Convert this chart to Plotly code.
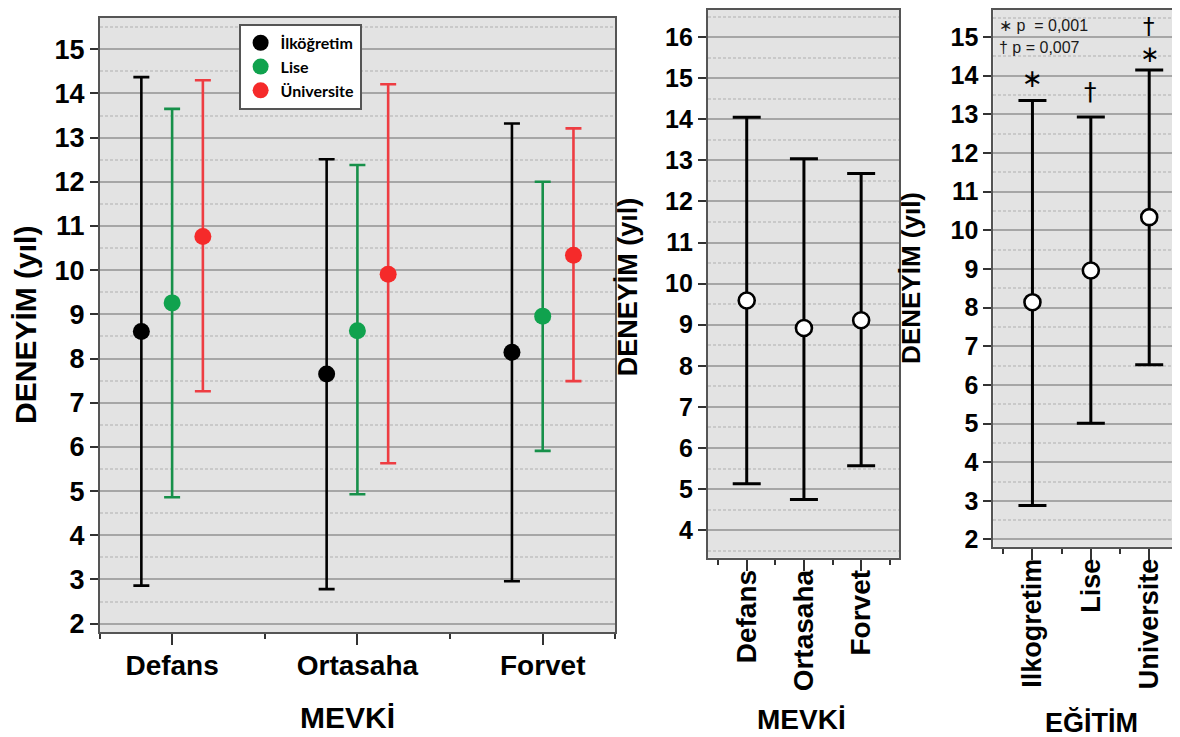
import plotly.graph_objects as go

W, H = 1180, 737

# ---------------- data ----------------
mevki = ["Defans", "Ortasaha", "Forvet"]
egitim = ["Ilkogretim", "Lise", "Universite"]
groups = ["İlköğretim", "Lise", "Üniversite"]

# left panel (MEVKİ x EĞİTİM): mean / upper / lower
ilk_mean = [8.61, 7.65, 8.14]
ilk_upper = [14.37, 12.51, 13.32]
ilk_lower = [2.86, 2.78, 2.96]
lise_mean = [9.26, 8.63, 8.96]
lise_upper = [13.65, 12.38, 12.00]
lise_lower = [4.86, 4.93, 5.91]
uni_mean = [10.76, 9.91, 10.34]
uni_upper = [14.30, 14.21, 13.21]
uni_lower = [7.26, 5.63, 7.49]

# middle panel (MEVKİ)
mevki_mean = [9.59, 8.92, 9.11]
mevki_upper = [14.05, 13.04, 12.68]
mevki_lower = [5.13, 4.75, 5.57]

# right panel (EĞİTİM)
egitim_mean = [8.14, 8.96, 10.34]
egitim_upper = [13.36, 12.93, 14.15]
egitim_lower = [2.88, 5.01, 6.52]

# ---------------- helpers ----------------
def px_x(x):
    return x / W

def px_y(y):
    return 1 - y / H

FONT = "Liberation Sans, Arial, sans-serif"
GRID = "#A6A6A6"
HALF = "#C9C9C9"
BG = "#E3E3E3"
FRAME = "#555555"

fig = go.Figure()

left_sets = [
    (groups[0], ilk_mean, ilk_upper, ilk_lower, "#000000", "#000000", -0.166),
    (groups[1], lise_mean, lise_upper, lise_lower, "#10A24E", "#17904A", 0.0),
    (groups[2], uni_mean, uni_upper, uni_lower, "#F52A2A", "#EE3D42", 0.166),
]
for name, m, u, l, mcol, ecol, off in left_sets:
    fig.add_trace(go.Scatter(
        x=[i + off for i in range(len(mevki))], y=m, name=name, mode="markers",
        marker=dict(size=17, color=mcol),
        error_y=dict(type="data", symmetric=False,
                     array=[a - b for a, b in zip(u, m)],
                     arrayminus=[b - c for b, c in zip(m, l)],
                     color=ecol, thickness=2.6, width=8),
        xaxis="x", yaxis="y", showlegend=True))

fig.add_trace(go.Scatter(
    x=list(range(len(mevki))), y=mevki_mean, mode="markers", showlegend=False,
    marker=dict(size=16, color="white", line=dict(color="black", width=2.6)),
    error_y=dict(type="data", symmetric=False,
                 array=[a - b for a, b in zip(mevki_upper, mevki_mean)],
                 arrayminus=[b - c for b, c in zip(mevki_mean, mevki_lower)],
                 color="black", thickness=3, width=14),
    xaxis="x2", yaxis="y2"))

fig.add_trace(go.Scatter(
    x=list(range(len(egitim))), y=egitim_mean, mode="markers", showlegend=False,
    marker=dict(size=16, color="white", line=dict(color="black", width=2.6)),
    error_y=dict(type="data", symmetric=False,
                 array=[a - b for a, b in zip(egitim_upper, egitim_mean)],
                 arrayminus=[b - c for b, c in zip(egitim_mean, egitim_lower)],
                 color="black", thickness=3, width=14),
    xaxis="x3", yaxis="y3"))


def yaxis(dom, rng, ticks, fs, anchor):
    halves = [t + 0.5 for t in range(int(rng[0]) - 1, int(rng[1]) + 1)
              if rng[0] < t + 0.5 < rng[1]]
    return dict(domain=dom, range=rng, anchor=anchor,
                tickvals=ticks, ticktext=[str(t) for t in ticks],
                showgrid=True, gridcolor=GRID, gridwidth=1.6, zeroline=False,
                showline=True, mirror=True, linecolor=FRAME, linewidth=2,
                ticks="outside", ticklen=8, tickwidth=1.5, tickcolor="#333333",
                tickfont=dict(family=FONT, size=fs, color="black", weight="bold"),
                minor=dict(tickvals=halves, showgrid=True, gridcolor=HALF,
                           gridwidth=1.6, griddash="3px,2px", ticks=""),
                fixedrange=True)


def xaxis(dom, rng, labels, anchor, fs, angle, minor_vals, standoff):
    return dict(domain=dom, range=rng, anchor=anchor,
                tickvals=list(range(len(labels))), ticktext=labels,
                tickangle=angle, showgrid=False, zeroline=False,
                showline=True, mirror=True, linecolor=FRAME, linewidth=2,
                ticks="outside", ticklen=11, tickwidth=1.5, tickcolor="#333333",
                ticklabelstandoff=standoff,
                tickfont=dict(family=FONT, size=fs, color="black", weight="bold"),
                minor=dict(tickvals=minor_vals, ticks="outside", ticklen=5,
                           tickwidth=1.5, tickcolor="#333333", showgrid=False),
                fixedrange=True)


fig.update_layout(
    width=W, height=H, margin=dict(l=0, r=0, t=0, b=0),
    paper_bgcolor="white", plot_bgcolor=BG, showlegend=True,
    xaxis=xaxis([px_x(92), px_x(608)], [-0.39, 2.39], mevki, "y", 28, 0,
                [-0.39, 0.5, 1.5, 2.39], -4),
    yaxis=yaxis([px_y(630), px_y(10)], [1.81, 15.71], list(range(2, 16)), 27, "x"),
    xaxis2=xaxis([px_x(701), px_x(893)], [-0.68, 2.67], mevki, "y2", 28, -90,
                 [-0.5, 0.5, 1.5, 2.5], -12),
    yaxis2=yaxis([px_y(555), px_y(2)], [3.33, 16.66], list(range(4, 17)), 25, "x2"),
    xaxis3=xaxis([px_x(987), 1.0], [-0.67, 2.63], egitim, "y3", 27, -90,
                 [-0.5, 0.5, 1.5, 2.5], -12),
    yaxis3=yaxis([px_y(544), px_y(2)], [1.81, 15.70], list(range(2, 16)), 25, "x3"),
    legend=dict(x=px_x(231), y=px_y(16), xanchor="left", yanchor="top",
                bgcolor="white", bordercolor=FRAME, borderwidth=2,
                font=dict(family="Lato, Open Sans, sans-serif", size=16,
                          color="black", weight="bold"),
                itemwidth=30, tracegroupgap=0),
)

title_font = dict(family=FONT, color="black", weight="bold")
annots = [
    dict(x=px_x(18), y=px_y(320), text="DENEYİM (yıl)", textangle=-90,
         font=dict(size=30, **title_font)),
    dict(x=px_x(621), y=px_y(281), text="DENEYİM (yıl)", textangle=-90,
         font=dict(size=27, **title_font)),
    dict(x=px_x(905), y=px_y(272), text="DENEYİM (yıl)", textangle=-90,
         font=dict(size=26, **title_font)),
    dict(x=px_x(340), y=px_y(716), text="MEVKİ", font=dict(size=30, **title_font)),
    dict(x=px_x(795), y=px_y(718), text="MEVKİ", font=dict(size=28, **title_font)),
    dict(x=px_x(1085), y=px_y(721), text="EĞİTİM", font=dict(size=27, **title_font)),
]
for a in annots:
    a.update(xref="paper", yref="paper", showarrow=False, xanchor="center", yanchor="middle")
    fig.add_annotation(**a)

# p-value notes
for txt, yy in [("∗ p  = 0,001", 18), ("† p = 0,007", 40)]:
    fig.add_annotation(x=px_x(991), y=px_y(yy), xref="paper", yref="paper",
                       text=txt, showarrow=False, xanchor="left", yanchor="middle",
                       font=dict(family="Liberation Sans, Arial", size=16, color="#1a1a1a"))

# significance symbols above the right-panel bars
sig = [(0, egitim_upper[0], "∗", 6, "bottom", 25),
       (1, egitim_upper[1], "†", 10, "bottom", 25),
       (2, egitim_upper[2], "∗", 16, "middle", 23),
       (2, egitim_upper[2], "†", 44, "middle", 23)]
for xi, top, sym, shift, anc, fs in sig:
    fig.add_annotation(x=xi, y=top, xref="x3", yref="y3", text=sym, showarrow=False,
                       xanchor="center", yanchor=anc, yshift=shift, borderpad=0,
                       font=dict(family="DejaVu Sans", size=fs, color="black"))

fig.write_html("out.html", config={"displayModeBar": False})
